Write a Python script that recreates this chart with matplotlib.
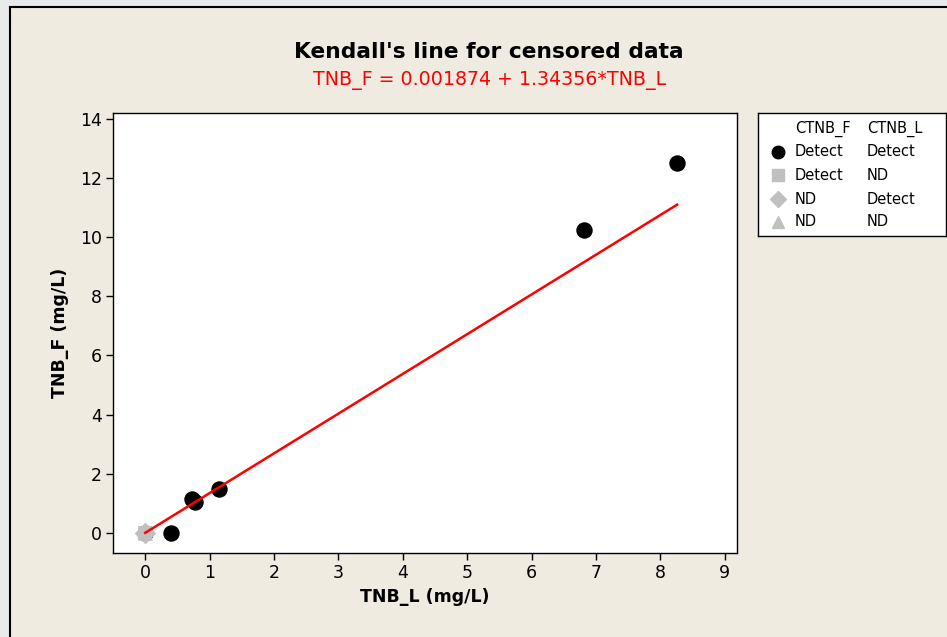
import matplotlib
matplotlib.use("Agg")
import matplotlib.pyplot as plt
from matplotlib.patches import Rectangle
from matplotlib.lines import Line2D

# Data
dd_x = [0.0, 0.40, 0.72, 0.78, 1.15, 6.82, 8.26]
dd_y = [0.0, 0.0, 1.15, 1.05, 1.50, 10.25, 12.52]
dn_x = [0.0]; dn_y = [0.0]   # Detect / ND
nd_x = [0.0]; nd_y = [0.0]   # ND / Detect
nn_x = [0.0]; nn_y = [0.0]   # ND / ND
intercept = 0.001874
slope = 1.34356
line_x = [0.0, 8.26]
xticks = list(range(0, 10))
yticks = list(range(0, 15, 2))

W, H = 947, 637
fig = plt.figure(figsize=(W/100, H/100), dpi=100)
fig.patch.set_facecolor("#e9ebeb")
bg = Rectangle((10/W, 0), 1, 1 - 7/H, transform=fig.transFigure,
               facecolor="#f0ebe0", edgecolor="none", zorder=-10)
fig.patches.append(bg)
fig.add_artist(Line2D([10/W, 10/W], [0, 1 - 7/H], transform=fig.transFigure, color="black", lw=1.5))
fig.add_artist(Line2D([10/W, 1], [1 - 7/H, 1 - 7/H], transform=fig.transFigure, color="black", lw=1.5))

ax = fig.add_axes([113/W, 1 - 553/H, (737-113)/W, (553-113)/H])
ax.set_facecolor("white")
ax.scatter(dd_x, dd_y, s=140, c="black", zorder=3, linewidths=0)
ax.scatter(dn_x, dn_y, s=100, marker="s", c="#c0c0c0", zorder=4, linewidths=0)
ax.scatter(nd_x, nd_y, s=120, marker="D", c="#c0c0c0", zorder=4, linewidths=0)
ax.scatter(nn_x, nn_y, s=110, marker="^", c="#c0c0c0", zorder=4, linewidths=0)
ax.plot(line_x, [intercept + slope*v for v in line_x], color="red", lw=1.8, zorder=5)

ax.set_xlim(-0.5, 9.19)
ax.set_ylim(-0.68, 14.2)
ax.set_xticks(xticks)
ax.set_yticks(yticks)
ax.tick_params(direction="out", length=5, width=1, labelsize=12.5, colors="black", pad=3)
for s in ax.spines.values():
    s.set_linewidth(1.0)
ax.set_xlabel("TNB_L (mg/L)", fontsize=12.5, fontweight="bold", labelpad=4)
ax.set_ylabel("TNB_F (mg/L)", fontsize=12.5, fontweight="bold", labelpad=8)

fig.text((293+684)/2/W, 1 - 52/H, "Kendall's line for censored data", ha="center", va="center",
         fontsize=15.7, fontweight="bold")
fig.text((313+667)/2/W, 1 - 81/H, "TNB_F = 0.001874 + 1.34356*TNB_L", ha="center", va="center",
         fontsize=13.7, color="red")

# Legend box
lx0, ly0, lx1, ly1 = 758, 113, 946, 236
lax = fig.add_axes([lx0/W, 1 - ly1/H, (lx1-lx0)/W, (ly1-ly0)/H])
lax.set_xlim(lx0, lx1)
lax.set_ylim(ly1, ly0)
lax.set_xticks([]); lax.set_yticks([])
lax.set_facecolor("white")
for s in lax.spines.values():
    s.set_linewidth(1.0)
hdr_f = ["CTNB_F", "Detect", "Detect", "ND", "ND"]
hdr_l = ["CTNB_L", "Detect", "ND", "Detect", "ND"]
rows_y = [129, 152, 175, 199, 222]
markers = [None, ("o", "black", 9), ("s", "#c0c0c0", 8), ("D", "#c0c0c0", 8), ("^", "#c0c0c0", 9)]
for yy, f, l, m in zip(rows_y, hdr_f, hdr_l, markers):
    lax.text(795, yy, f, va="center", ha="left", fontsize=10.5)
    lax.text(867, yy, l, va="center", ha="left", fontsize=10.5)
    if m is not None:
        lax.plot([778], [yy], marker=m[0], color=m[1], markersize=m[2], linestyle="none")

fig.savefig("out.png", dpi=100, facecolor=fig.get_facecolor())
